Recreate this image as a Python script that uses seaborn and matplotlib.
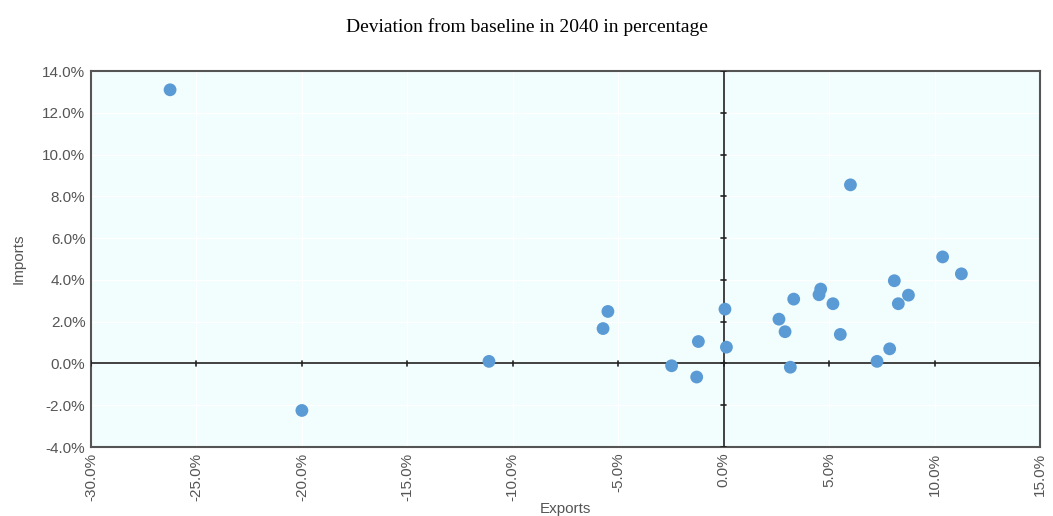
import numpy as np
import pandas as pd
import matplotlib
matplotlib.use("Agg")
import matplotlib.pyplot as plt
import matplotlib.ticker as mticker
import seaborn as sns

# deviation from baseline in 2040, in percent
exports = [-26.25, -20.0, -11.13, -5.72, -5.49, -2.47, -1.28, -1.2, 0.06, 0.13,
           2.62, 2.91, 3.16, 3.32, 4.52, 4.6, 5.18, 5.53, 6.01, 7.27,
           7.87, 8.09, 8.28, 8.76, 10.38, 11.27]
imports = [13.1, -2.25, 0.1, 1.67, 2.49, -0.11, -0.65, 1.05, 2.6, 0.78,
           2.12, 1.52, -0.18, 3.08, 3.29, 3.56, 2.86, 1.39, 8.55, 0.1,
           0.7, 3.96, 2.86, 3.27, 5.1, 4.29]
x_ticks = [-30, -25, -20, -15, -10, -5, 0, 5, 10, 15]
y_ticks = [-4, -2, 0, 2, 4, 6, 8, 10, 12, 14]

df = pd.DataFrame({"Exports": exports, "Imports": imports})

sns.set_style("white")
plt.rcParams['font.family'] = ['Liberation Sans Narrow', 'Liberation Sans', 'DejaVu Sans']

fig = plt.figure(figsize=(10.53, 5.16), dpi=100)
ax = fig.add_axes([0.0864, 0.1337, 0.9013, 0.7287])
ax.set_facecolor('#f2fdfd')

sns.scatterplot(data=df, x="Exports", y="Imports", ax=ax, color='#5b9bd5',
                s=85, edgecolor='none', zorder=5)

ax.set_xlim(-30, 15)
ax.set_ylim(-4, 14)
ax.set_xticks(x_ticks)
ax.set_yticks(y_ticks)
ax.xaxis.set_major_formatter(mticker.FuncFormatter(lambda v, p: f"{v:.1f}%"))
ax.yaxis.set_major_formatter(mticker.FuncFormatter(lambda v, p: f"{v:.1f}%"))
ax.grid(True, color='white', linewidth=1.0)
ax.set_axisbelow(True)

# zero lines with little tick marks
ax.axhline(0, color='#333333', lw=1.3, zorder=3)
ax.axvline(0, color='#333333', lw=1.3, zorder=3)
for xv in x_ticks:
    ax.plot([xv, xv], [-0.12, 0.12], color='#222222', lw=1.2, zorder=3)
for yv in y_ticks:
    ax.plot([-0.12, 0.12], [yv, yv], color='#222222', lw=1.2, zorder=3)

for sp in ax.spines.values():
    sp.set_color('#555555')
    sp.set_linewidth(1.5)

ax.tick_params(axis='both', colors='#555555', labelsize=11, length=0, pad=4)
ax.tick_params(axis='x', rotation=90)
ax.set_xlabel("Exports", color='#555555', fontsize=11, labelpad=1)
ax.set_ylabel("Imports", color='#555555', fontsize=11, labelpad=12)

fig.suptitle("Deviation from baseline in 2040 in percentage", y=0.965,
             fontsize=14, family='Liberation Serif', color='black')

fig.savefig("out.png", dpi=100)
